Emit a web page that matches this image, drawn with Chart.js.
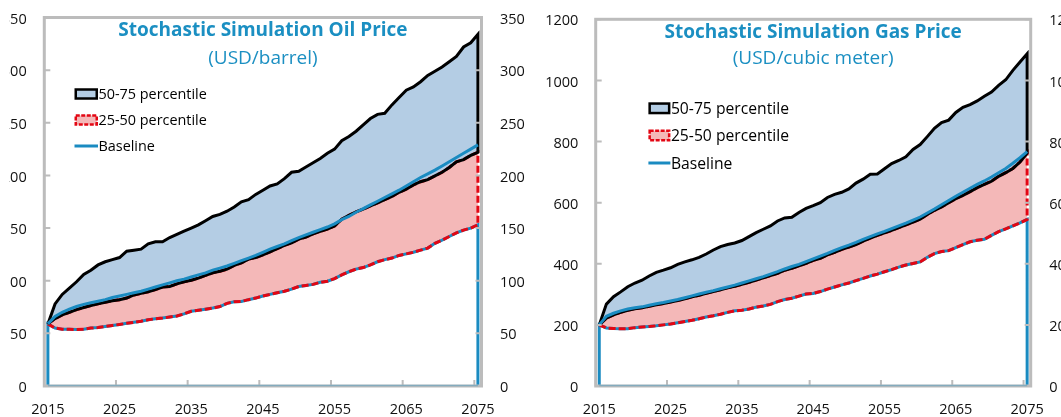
<!DOCTYPE html>
<html>
<head>
<meta charset="utf-8">
<script src="https://cdn.jsdelivr.net/npm/chart.js@4/dist/chart.umd.min.js"></script>
<style>
  html, body { margin: 0; padding: 0; background: #ffffff; overflow: hidden; width: 1061px; height: 417px; }
  #oilWrap { position: absolute; left: 0; top: 0; width: 530px; height: 417px; clip-path: inset(0 0 0 9.5px); }
  #gasWrap { position: absolute; left: 531px; top: 0; width: 569px; height: 417px; }
  canvas { display: block; }
</style>
</head>
<body>
<div id="oilWrap"><canvas id="oil" width="530" height="417"></canvas></div>
<div id="gasWrap"><canvas id="gas" width="569" height="417"></canvas></div>
<script>
// ---------- categories / tick labels ----------
const YEARS = [2015,2016,2017,2018,2019,2020,2021,2022,2023,2024,
               2025,2026,2027,2028,2029,2030,2031,2032,2033,2034,
               2035,2036,2037,2038,2039,2040,2041,2042,2043,2044,
               2045,2046,2047,2048,2049,2050,2051,2052,2053,2054,
               2055,2056,2057,2058,2059,2060,2061,2062,2063,2064,
               2065,2066,2067,2068,2069,2070,2071,2072,2073,2074,2075];
const X_TICK_YEARS = [2015, 2025, 2035, 2045, 2055, 2065, 2075];
const OIL_Y_TICKS = [0, 50, 100, 150, 200, 250, 300, 350];
const GAS_Y_TICKS = [0, 200, 400, 600, 800, 1000, 1200];
const SERIES_LABELS = ['50-75 percentile', '25-50 percentile', 'Baseline'];

// ---------- Oil price (USD/barrel) ----------
const OIL_P75 = [59,78,87,93,99,106,110,115,118,120,
                 122,128,129,130,135,137,137,141,144,147,
                 150,153,157,161,163,166,170,175,177,182,
                 186,190,192,197,203,204,208,212,216,221,
                 225,233,237,242,248,254,258,259,267,274,
                 281,284,289,295,299,303,308,313,322,326,334];
const OIL_BASE = [59,66,70,73,75.5,77.5,79,80.5,82,84,
                  85.5,87,88.5,90,92,94,96,98,100,101.5,
                  103.5,105.5,107.5,110,112,114,116.5,119,121.5,124,
                  127,130,132.5,135,138,141,143.5,146,148.5,151,
                  154,158,161,165,168.5,172,175.5,179,182.5,186,
                  190,194,198,201.5,205,209,213,217,221,225,229];
const OIL_P50 = [59,64,67.5,70,72.5,74.5,76.5,78,79.5,81,
                 82,83.5,86.5,88,89.5,91.5,94,94.5,97,99,
                 100.5,102.5,105,107.5,109,111,114.5,117,120.5,122,
                 124.5,127.5,130.5,133.5,136,139.5,141.5,144.5,147,149,
                 152,158.5,162,165.5,168,171,174,177,180,184,
                 187,191,194,196,199.5,203,207.5,213,215,219,222];
const OIL_P25 = [59,55,54,53.8,53.7,54,55,55.5,56.5,57.5,
                 58.5,59.5,60.5,61.5,63,63.8,64.5,65.5,66.5,68.5,
                 71,72,73,74,75.5,78.5,80,80.3,82,83.5,
                 85.5,87,88.5,90,92,94.5,95.5,96.5,98.5,99.5,
                 102,105.5,108.5,111,112.5,115,118,120,121.5,124,
                 125.5,127,129,131,135.5,138.5,142,145.5,148,150,153];

// ---------- Gas price (USD/cubic meter) ----------
const GAS_P75 = [200,268,292,308,325,337,346,360,372,379,
                 387,398,406,413,421,432,445,456,463,468,
                 476,489,502,513,524,540,550,552,568,581,
                 590,600,617,627,634,645,664,677,693,694,
                 711,728,738,750,774,790,816,843,862,870,
                 895,912,921,933,948,962,984,1002,1033,1060,1087];
const GAS_BASE = [200,228,238,246,252,256,259,264,269,273,
                  278,283,289,295,301,307,312,318,324,330,
                  337,344,351,358,366,374,383,391,398,407,
                  416,425,434,444,453,461,470,480,489,498,
                  506,515,524,533,543,553,566,579,593,607,
                  621,634,647,660,671,684,698,712,729,747,767];
const GAS_P50 = [200,222,233,241,248,253,256,261,266,270,
                 275,280,285,292,297,303,309,315,321,326,
                 333,339,347,354,361,369,379,385,393,401,
                 411,418,429,437,447,455,463,474,484,493,
                 501,509,518,527,536,546,561,575,586,600,
                 613,624,636,649,660,670,686,698,712,733,762];
const GAS_P25 = [200,190,188,187.5,187.5,191,193,195,197,200,
                 203,207,211,215,220,226,230,235,241,246,
                 248,252,258,262,267,276,283,287,294,301,
                 303,309,317,324,331,337,345,352,360,366,
                 374,381,389,396,401,406,421,433,440,443,
                 453,463,472,477,480,493,505,514,524,534,545];

// ---------- styles ----------
const FONT = "'Open Sans', 'DejaVu Sans', sans-serif";
const BLUE = '#1A8BC1';
const TITLE_BLUE = '#1B8FC2';
const LBLUE = '#B4CDE4';
const PINK = '#F4B8B8';
const RED = '#E30613';
const FRAME = '#BCBCBC';
const TEXT = '#111111';

function buildChart(canvasId, series, L) {
  const pts = arr => YEARS.map((yr, i) => ({ x: yr, y: arr[i] }));
  const first = YEARS[0], last = YEARS[YEARS.length - 1];

  const datasets = [
    { label: SERIES_LABELS[2], data: pts(series.base), borderColor: BLUE, borderWidth: 3, fill: false, order: 0 },
    { label: SERIES_LABELS[0], data: pts(series.p50).concat(pts(series.p75).reverse()),
      borderColor: '#000000', borderWidth: 3, fill: false, order: 1 },
    { label: SERIES_LABELS[1], data: pts(series.p25).concat(pts(series.p50).reverse()),
      borderColor: RED, borderWidth: 3, borderDash: [7, 3], fill: false, order: 2 },
    { label: '0-25', data: [{ x: first, y: 0 }].concat(pts(series.p25), [{ x: last, y: 0 }]),
      borderColor: BLUE, borderWidth: 3, fill: false, order: 3 },
    { label: 'fill75', data: pts(series.p75), borderColor: 'rgba(0,0,0,0)', borderWidth: 1, backgroundColor: LBLUE, fill: 5, order: 10 },
    { label: 'fill50', data: pts(series.p50), borderColor: 'rgba(0,0,0,0)', borderWidth: 1, backgroundColor: PINK, fill: 6, order: 11 },
    { label: 'fill25', data: pts(series.p25), borderColor: 'rgba(0,0,0,0)', borderWidth: 1, fill: false, order: 12 }
  ];

  function drawFrame(chart) {
    const ctx = chart.ctx;
    const a = chart.chartArea;
    const sy = chart.scales.y, sx = chart.scales.x;
    ctx.save();
    ctx.setLineDash([]);
    ctx.strokeStyle = FRAME;
    ctx.lineWidth = 3;
    ctx.strokeRect(a.left, a.top, a.right - a.left, a.bottom - a.top);
    ctx.lineWidth = 2;
    ctx.beginPath();
    L.yticks.forEach(v => {
      const py = sy.getPixelForValue(v);
      ctx.moveTo(a.left, py); ctx.lineTo(a.left + 6, py);
      ctx.moveTo(a.right, py); ctx.lineTo(a.right - 6, py);
    });
    X_TICK_YEARS.forEach(v => {
      const px = sx.getPixelForValue(v - 0.5);
      ctx.moveTo(px, a.bottom); ctx.lineTo(px, a.bottom - 6);
    });
    ctx.stroke();
    // light blue bottom edge of the lowest band, as seen in the reference
    ctx.strokeStyle = 'rgba(26,139,193,0.35)';
    ctx.lineWidth = 1.5;
    ctx.beginPath();
    ctx.moveTo(sx.getPixelForValue(first), a.bottom - 0.5);
    ctx.lineTo(sx.getPixelForValue(last), a.bottom - 0.5);
    ctx.stroke();
    ctx.restore();
  }

  const decor = {
    id: 'decor' + canvasId,
    afterDraw(chart) {
      drawFrame(chart);
      const { ctx, chartArea: a } = chart;
      const cx = (a.left + a.right) / 2;
      ctx.save();
      ctx.fillStyle = TITLE_BLUE;
      ctx.textAlign = 'center';
      ctx.textBaseline = 'alphabetic';
      ctx.font = 'bold 19px ' + FONT;
      ctx.fillText(L.title, cx, L.titleY);
      ctx.font = '19px ' + FONT;
      ctx.fillText(L.subtitle, cx, L.subY);

      // legend
      const lg = L.legend;
      ctx.textAlign = 'left';
      ctx.font = lg.font + 'px ' + FONT;
      const ds = chart.data.datasets;
      const items = [
        { ds: ds[1], kind: 'box', fill: LBLUE },
        { ds: ds[2], kind: 'box', fill: PINK },
        { ds: ds[0], kind: 'line' }
      ];
      items.forEach((it, i) => {
        const yc = lg.ys[i];
        if (it.kind === 'box') {
          ctx.fillStyle = it.fill;
          ctx.fillRect(lg.x + 1.25, yc - lg.h / 2 + 1.25, lg.w - 2.5, lg.h - 2.5);
          ctx.strokeStyle = it.ds.borderColor;
          ctx.lineWidth = 2.5;
          ctx.setLineDash(it.ds.borderDash ? [4, 1.5] : []);
          ctx.strokeRect(lg.x + 1.25, yc - lg.h / 2 + 1.25, lg.w - 2.5, lg.h - 2.5);
          ctx.setLineDash([]);
        } else {
          ctx.strokeStyle = it.ds.borderColor;
          ctx.lineWidth = 3;
          ctx.beginPath();
          ctx.moveTo(lg.x, yc); ctx.lineTo(lg.x + lg.w, yc);
          ctx.stroke();
        }
        ctx.fillStyle = '#000000';
        ctx.fillText(it.ds.label, lg.x + lg.w + 0.5, yc + lg.font * 0.357);
      });
      ctx.restore();
    }
  };

  const yAxis = (pos, width, pad) => ({
    position: pos, min: 0, max: L.ymax,
    afterBuildTicks: s => { s.ticks = L.yticks.map(v => ({ value: v })); },
    afterFit: s => { s.width = width; s.paddingTop = 0; s.paddingBottom = 0; },
    ticks: { padding: pad, labelOffset: 2, color: TEXT, font: { family: FONT, size: 14.5 }, callback: v => String(v) },
    grid: { display: false, drawTicks: false },
    border: { display: false }
  });

  return new Chart(document.getElementById(canvasId), {
    type: 'line',
    data: { datasets },
    options: {
      responsive: false,
      animation: false,
      devicePixelRatio: 1,
      events: [],
      layout: { padding: { top: L.top, left: 0, right: 0, bottom: 0 } },
      elements: { point: { radius: 0 }, line: { tension: 0 } },
      plugins: { legend: { display: false }, tooltip: { enabled: false }, title: { display: false } },
      scales: {
        x: {
          type: 'linear', min: first - 0.5, max: last + 0.5,
          afterBuildTicks: s => { s.ticks = X_TICK_YEARS.map(v => ({ value: v })); },
          afterFit: s => { s.height = 31; s.paddingLeft = 0; s.paddingRight = 0; },
          ticks: { padding: 15, color: TEXT, font: { family: FONT, size: 14.5 }, maxRotation: 0, autoSkip: false, callback: v => String(v) },
          grid: { display: false, drawTicks: false },
          border: { display: false }
        },
        y: yAxis('left', L.leftW, L.padL),
        y2: yAxis('right', L.rightW, L.padR)
      }
    },
    plugins: [decor]
  });
}

buildChart('oil',
  { p75: OIL_P75, base: OIL_BASE, p50: OIL_P50, p25: OIL_P25 },
  { ymax: 350, yticks: OIL_Y_TICKS, top: 17.5, leftW: 44.3, rightW: 48.5, padL: 17.6, padR: 18.5,
    title: 'Stochastic Simulation Oil Price', titleY: 36.2, subtitle: '(USD/barrel)', subY: 64.3,
    legend: { x: 74.5, w: 23.5, h: 11.5, ys: [94, 120, 146], font: 14.4 } });

buildChart('gas',
  { p75: GAS_P75, base: GAS_BASE, p50: GAS_P50, p25: GAS_P25 },
  { ymax: 1200, yticks: GAS_Y_TICKS, top: 19.3, leftW: 64.7, rightW: 69.3, padL: 17.4, padR: 18.6,
    title: 'Stochastic Simulation Gas Price', titleY: 38.3, subtitle: '(USD/cubic meter)', subY: 64,
    legend: { x: 117.4, w: 22, h: 12, ys: [108.3, 135.4, 163], font: 15.7 } });
</script>
</body>
</html>
